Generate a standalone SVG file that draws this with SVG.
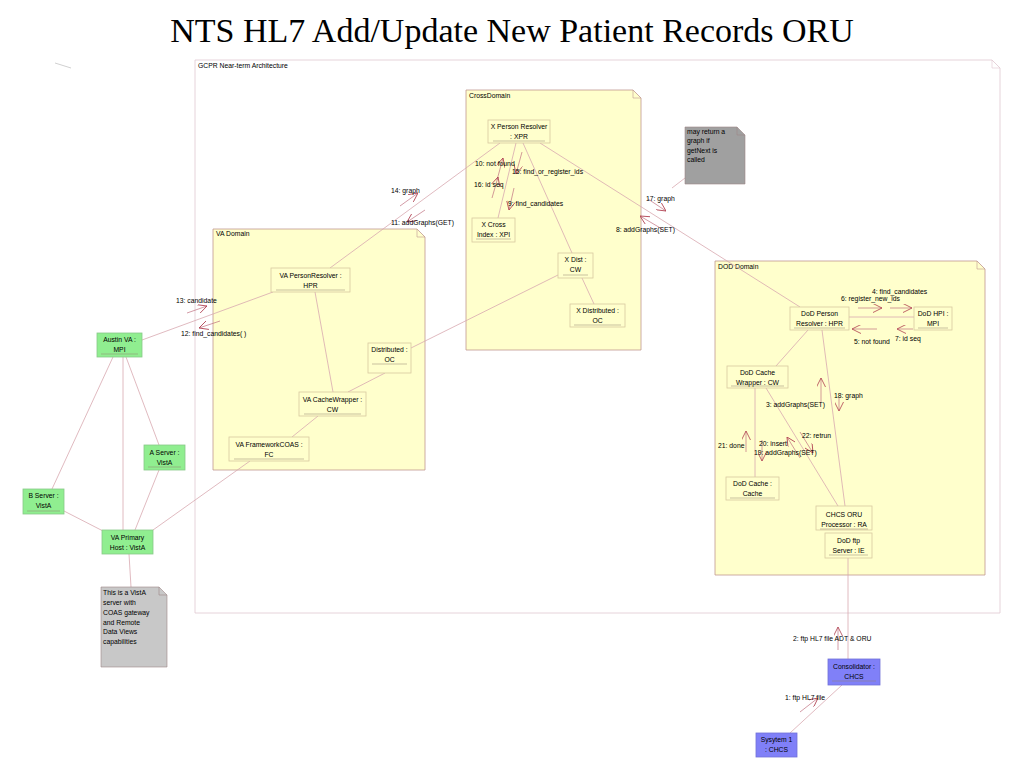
<svg xmlns="http://www.w3.org/2000/svg" width="1024" height="768" viewBox="0 0 1024 768">
<defs>
<style>
.t{font-family:"Liberation Sans",Arial,sans-serif;font-size:6.8px;fill:#000}
.c{text-anchor:middle}
.title{font-family:"Liberation Serif","Times New Roman",serif;font-size:34px;fill:#000;text-anchor:middle}
.pkg{fill:#ffffcc;stroke:#c09890;stroke-width:0.8}
.gcpr{fill:#ffffff;stroke:#e0c8d0;stroke-width:0.8}
.fold{fill:none;stroke:#c09890;stroke-width:0.6}
.obj{fill:#ffffcc;stroke:#d8c8a0;stroke-width:0.8}
.grn{fill:#90ee90;stroke:#88c888;stroke-width:0.8}
.blu{fill:#8080f8;stroke:#7070d8;stroke-width:0.8}
.ul{stroke:#908070;stroke-width:0.5}
.ln{stroke:#d8a8b0;stroke-width:0.8;fill:none}
.msg{stroke:#c07080;stroke-width:0.7;fill:none;marker-end:url(#ah)}
.note1{fill:#a0a0a0;stroke:#a08888;stroke-width:0.6}
.note2{fill:#c8c8c8;stroke:#a08888;stroke-width:0.6}
</style>
<marker id="ah" viewBox="0 0 10 10" refX="10" refY="5" markerWidth="9" markerHeight="9" markerUnits="userSpaceOnUse" orient="auto">
<path d="M0,0 L10,5 L0,10" fill="none" stroke="#b04050" stroke-width="0.9"/>
</marker>
</defs>

<text class="title" x="512" y="42">NTS HL7 Add/Update New Patient Records ORU</text>
<line x1="55" y1="63" x2="71" y2="68" stroke="#b0b0b0" stroke-width="0.6"/>

<g id="gcpr">
<path class="gcpr" d="M195,60 H992 L1000,68 V613 H195 Z"/>
<path d="M992,60 V68 H1000" fill="none" stroke="#e0c8d0" stroke-width="0.6"/>
<text class="t" x="198" y="68">GCPR Near-term Architecture</text>
</g>

<g id="crossdomain">
<path class="pkg" d="M466,90 H633 L641,98 V350 H466 Z"/>
<path class="fold" d="M633,90 V98 H641"/>
<text class="t" x="469" y="98">CrossDomain</text>
</g>

<g id="vadomain">
<path class="pkg" d="M213,229 H417 L425,237 V470 H213 Z"/>
<path class="fold" d="M417,229 V237 H425"/>
<text class="t" x="216" y="236">VA Domain</text>
</g>

<g id="doddomain">
<path class="pkg" d="M715,261 H977 L985,269 V575 H715 Z"/>
<path class="fold" d="M977,261 V269 H985"/>
<text class="t" x="718" y="269">DOD Domain</text>
</g>

<g id="connectors">
<line class="ln" x1="500" y1="143" x2="330" y2="268"/>
<line class="ln" x1="516" y1="143" x2="498" y2="218"/>
<line class="ln" x1="523" y1="143" x2="572" y2="253"/>
<line class="ln" x1="540" y1="143" x2="800" y2="307"/>
<line class="ln" x1="582" y1="278" x2="594" y2="304"/>
<line class="ln" x1="558" y1="275" x2="411" y2="348"/>
<line class="ln" x1="273" y1="292" x2="142" y2="340"/>
<line class="ln" x1="315" y1="292" x2="333" y2="392"/>
<line class="ln" x1="385" y1="373" x2="348" y2="392"/>
<line class="ln" x1="318" y1="416" x2="292" y2="437"/>
<line class="ln" x1="250" y1="461" x2="153" y2="530"/>
<line class="ln" x1="113" y1="357" x2="52" y2="489"/>
<line class="ln" x1="123" y1="357" x2="123" y2="530"/>
<line class="ln" x1="126" y1="357" x2="159" y2="445"/>
<line class="ln" x1="159" y1="470" x2="135" y2="530"/>
<line class="ln" x1="64" y1="511" x2="103" y2="531"/>
<line class="ln" x1="129" y1="554" x2="131" y2="587"/>
<line class="ln" x1="685" y1="178" x2="672" y2="188"/>
<line class="ln" x1="849" y1="317" x2="914" y2="317"/>
<line class="ln" x1="808" y1="330" x2="776" y2="366"/>
<line class="ln" x1="822" y1="330" x2="845" y2="506"/>
<line class="ln" x1="755" y1="388" x2="755" y2="477"/>
<line class="ln" x1="766" y1="388" x2="838" y2="506"/>
<line class="ln" x1="848" y1="558" x2="848" y2="659"/>
<line class="ln" x1="842" y1="685" x2="790" y2="733"/>
</g>

<g id="messages">
<line class="msg" x1="497" y1="180" x2="503" y2="158"/>
<line class="msg" x1="492" y1="198" x2="498" y2="177"/>
<line class="msg" x1="522" y1="152" x2="516" y2="174"/>
<line class="msg" x1="514" y1="188" x2="509" y2="210"/>
<line class="msg" x1="648" y1="199" x2="666" y2="211"/>
<line class="msg" x1="662" y1="229" x2="640" y2="216"/>
<line class="msg" x1="400" y1="206" x2="418" y2="193"/>
<line class="msg" x1="425" y1="210" x2="407" y2="222"/>
<line class="msg" x1="187" y1="313" x2="207" y2="306"/>
<line class="msg" x1="220" y1="321" x2="199" y2="328"/>
<line class="msg" x1="858" y1="308" x2="882" y2="308"/>
<line class="msg" x1="890" y1="308" x2="912" y2="308"/>
<line class="msg" x1="877" y1="329" x2="852" y2="329"/>
<line class="msg" x1="913" y1="329" x2="897" y2="329"/>
<line class="msg" x1="821" y1="402" x2="821" y2="378"/>
<line class="msg" x1="839" y1="398" x2="839" y2="411"/>
<line class="msg" x1="746" y1="452" x2="746" y2="431"/>
<line class="msg" x1="762" y1="440" x2="762" y2="461"/>
<line class="msg" x1="800" y1="458" x2="787" y2="437"/>
<line class="msg" x1="800" y1="432" x2="813" y2="453"/>
<line class="msg" x1="838" y1="650" x2="838" y2="627"/>
<line class="msg" x1="800" y1="712" x2="818" y2="698"/>
<text class="t" x="475" y="166">10: not found</text>
<text class="t" x="474" y="187">16: id seq</text>
<text class="t" x="512" y="174">15: find_or_register_ids</text>
<text class="t" x="508" y="206">9: find_candidates</text>
<text class="t" x="646" y="201">17: graph</text>
<text class="t" x="616" y="232">8: addGraphs(SET)</text>
<text class="t" x="391" y="193">14: graph</text>
<text class="t" x="391" y="225">11: addGraphs(GET)</text>
<text class="t" x="176" y="303">13: candidate</text>
<text class="t" x="181" y="336">12: find_candidates( )</text>
<text class="t" x="872" y="294">4: find_candidates</text>
<text class="t" x="841" y="301">6: register_new_ids</text>
<text class="t" x="854" y="344">5: not found</text>
<text class="t" x="895" y="341">7: id seq</text>
<text class="t" x="834" y="398">18: graph</text>
<text class="t" x="766" y="407">3: addGraphs(SET)</text>
<text class="t" x="718" y="448">21: done</text>
<text class="t" x="759" y="446">20: insert</text>
<text class="t" x="754" y="455">19: addGraphs(SET)</text>
<text class="t" x="802" y="438">22: retrun</text>
<text class="t" x="793" y="641">2: ftp HL7 file ADT &amp; ORU</text>
<text class="t" x="785" y="700">1: ftp HL7 file</text>
</g>

<g id="xpr">
<rect class="obj" x="488" y="120" width="62" height="23"/>
<text class="t c" x="519" y="129">X Person Resolver</text>
<text class="t c" x="519" y="139">: XPR</text>
<line class="ul" x1="493" y1="141" x2="545" y2="141"/>
</g>
<g id="xpi">
<rect class="obj" x="472" y="218" width="43" height="24"/>
<text class="t c" x="493.5" y="227">X Cross</text>
<text class="t c" x="493.5" y="237">Index : XPI</text>
<line class="ul" x1="476" y1="239" x2="511" y2="239"/>
</g>
<g id="xdist">
<rect class="obj" x="558" y="253" width="35" height="25"/>
<text class="t c" x="575.5" y="262">X Dist :</text>
<text class="t c" x="575.5" y="272">CW</text>
<line class="ul" x1="563" y1="275" x2="588" y2="275"/>
</g>
<g id="xdistributed">
<rect class="obj" x="570" y="304" width="55" height="23"/>
<text class="t c" x="597.5" y="313">X Distributed :</text>
<text class="t c" x="597.5" y="323">OC</text>
<line class="ul" x1="574" y1="325" x2="621" y2="325"/>
</g>
<g id="note-getnext">
<path class="note1" d="M685,127 H737 L745,135 V184 H685 Z"/>
<path d="M737,127 V135 H745" fill="none" stroke="#a08888" stroke-width="0.6"/>
<text class="t" x="687" y="134">may return a</text>
<text class="t" x="687" y="143">graph if</text>
<text class="t" x="687" y="153">getNext is</text>
<text class="t" x="687" y="162">called</text>
</g>

<g id="vahpr">
<rect class="obj" x="271" y="268" width="79" height="24"/>
<text class="t c" x="310.5" y="278">VA PersonResolver :</text>
<text class="t c" x="310.5" y="288">HPR</text>
<line class="ul" x1="276" y1="290" x2="345" y2="290"/>
</g>
<g id="vaoc">
<rect class="obj" x="368" y="343" width="43" height="30"/>
<text class="t c" x="389.5" y="352">Distributed :</text>
<text class="t c" x="389.5" y="362">OC</text>
<line class="ul" x1="372" y1="364" x2="407" y2="364"/>
</g>
<g id="vacw">
<rect class="obj" x="299" y="392" width="67" height="24"/>
<text class="t c" x="332.5" y="402">VA CacheWrapper :</text>
<text class="t c" x="332.5" y="412">CW</text>
<line class="ul" x1="304" y1="414" x2="361" y2="414"/>
</g>
<g id="vafc">
<rect class="obj" x="229" y="437" width="80" height="24"/>
<text class="t c" x="269" y="447">VA FrameworkCOAS :</text>
<text class="t c" x="269" y="457">FC</text>
<line class="ul" x1="234" y1="459" x2="304" y2="459"/>
</g>

<g id="austin">
<rect class="grn" x="97" y="333" width="45" height="24"/>
<text class="t c" x="119.5" y="342">Austin VA :</text>
<text class="t c" x="119.5" y="352">MPI</text>
<line class="ul" x1="101" y1="354" x2="138" y2="354"/>
</g>
<g id="aserver">
<rect class="grn" x="144" y="445" width="41" height="25"/>
<text class="t c" x="164.5" y="455">A Server :</text>
<text class="t c" x="164.5" y="465">VistA</text>
<line class="ul" x1="148" y1="467" x2="181" y2="467"/>
</g>
<g id="bserver">
<rect class="grn" x="23" y="489" width="41" height="25"/>
<text class="t c" x="43.5" y="498">B Server :</text>
<text class="t c" x="43.5" y="508">VistA</text>
<line class="ul" x1="27" y1="511" x2="60" y2="511"/>
</g>
<g id="vaprimary">
<rect class="grn" x="102" y="530" width="51" height="24"/>
<text class="t c" x="127.5" y="540">VA Primary</text>
<text class="t c" x="127.5" y="550">Host : VistA</text>
</g>
<g id="note-vista">
<path class="note2" d="M101,587 H159 L167,595 V667 H101 Z"/>
<path d="M159,587 V595 H167" fill="none" stroke="#a08888" stroke-width="0.6"/>
<text class="t" x="103" y="595">This is a VistA</text>
<text class="t" x="103" y="605">server with</text>
<text class="t" x="103" y="615">COAS gateway</text>
<text class="t" x="103" y="625">and Remote</text>
<text class="t" x="103" y="634">Data Views</text>
<text class="t" x="103" y="644">capabilities</text>
</g>

<g id="dodhpr">
<rect class="obj" x="790" y="307" width="59" height="23"/>
<text class="t c" x="819.5" y="316">DoD Person</text>
<text class="t c" x="819.5" y="326">Resolver : HPR</text>
<line class="ul" x1="794" y1="328" x2="845" y2="328"/>
</g>
<g id="dodhpi">
<rect class="obj" x="914" y="307" width="38" height="23"/>
<text class="t c" x="933" y="316">DoD HPI :</text>
<text class="t c" x="933" y="326">MPI</text>
<line class="ul" x1="918" y1="328" x2="948" y2="328"/>
</g>
<g id="dodcw">
<rect class="obj" x="727" y="366" width="61" height="22"/>
<text class="t c" x="757.5" y="375">DoD Cache</text>
<text class="t c" x="757.5" y="385">Wrapper : CW</text>
<line class="ul" x1="731" y1="386" x2="784" y2="386"/>
</g>
<g id="dodcache">
<rect class="obj" x="726" y="477" width="53" height="23"/>
<text class="t c" x="752.5" y="486">DoD Cache :</text>
<text class="t c" x="752.5" y="496">Cache</text>
<line class="ul" x1="730" y1="498" x2="775" y2="498"/>
</g>
<g id="chcsoru">
<rect class="obj" x="816" y="506" width="56" height="24"/>
<text class="t c" x="844" y="517">CHCS ORU</text>
<text class="t c" x="844" y="527">Processor : RA</text>
<line class="ul" x1="820" y1="529" x2="868" y2="529"/>
</g>
<g id="dodftp">
<rect class="obj" x="825" y="533" width="47" height="25"/>
<text class="t c" x="848.5" y="543">DoD ftp</text>
<text class="t c" x="848.5" y="553">Server : IE</text>
<line class="ul" x1="829" y1="555" x2="868" y2="555"/>
</g>
<g id="consolidator">
<rect class="blu" x="828" y="659" width="52" height="26"/>
<text class="t c" x="854" y="669">Consolidator :</text>
<text class="t c" x="854" y="679">CHCS</text>
<line class="ul" x1="832" y1="681" x2="876" y2="681"/>
</g>
<g id="system1">
<rect class="blu" x="756" y="733" width="41" height="24"/>
<text class="t c" x="776.5" y="742">Sysytem 1</text>
<text class="t c" x="776.5" y="752">: CHCS</text>
</g>
</svg>
